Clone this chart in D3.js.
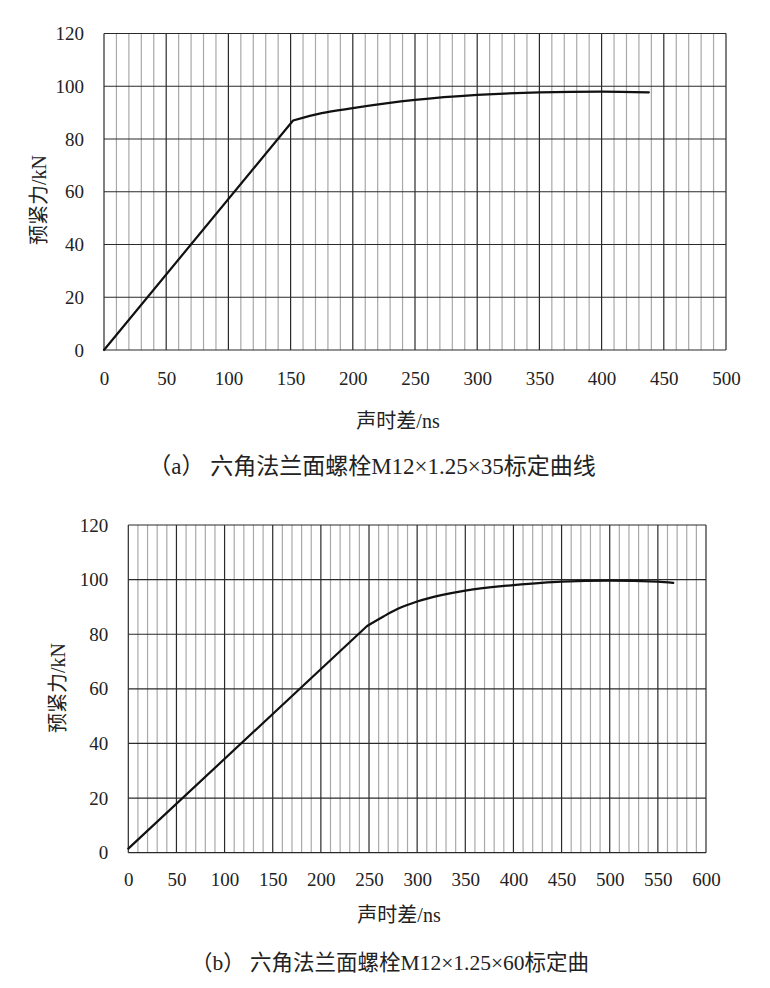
<!DOCTYPE html>
<html>
<head>
<meta charset="utf-8">
<script src="https://cdn.jsdelivr.net/npm/d3@7"></script>
<style>
  html, body { margin: 0; padding: 0; background: #fff; }
  svg { display: block; }
  text { font-family: "Liberation Serif", "Times New Roman", "Noto Sans CJK SC", serif; fill: #222; }
</style>
</head>
<body>
<svg id="chart" width="770" height="988"></svg>
<script>
// ---- Data ----
const yTicks = [0, 20, 40, 60, 80, 100, 120];

// (a) M12×1.25×35 : straight part (origin -> knee), then curved part (knee -> end)
const xTicksA = [0, 50, 100, 150, 200, 250, 300, 350, 400, 450, 500];
const seriesA_x = [0, 152, 175, 200, 250, 300, 350, 400, 438];
const seriesA_y = [0, 87, 89.8, 91.7, 94.8, 96.7, 97.7, 98, 97.7];
const kneeA = 1;

// (b) M12×1.25×60
const xTicksB = [0, 50, 100, 150, 200, 250, 300, 350, 400, 450, 500, 550, 600];
const seriesB_x = [0, 248, 265, 280, 300, 325, 350, 400, 450, 500, 550, 566];
const seriesB_y = [1.5, 83, 86.5, 89.3, 92, 94.3, 96, 98, 99.3, 99.6, 99.3, 98.8];
const kneeB = 1;

const yTitle = "预紧力/kN";
const xTitle = "声时差/ns";
const captionA = "（a） 六角法兰面螺栓M12×1.25×35标定曲线";
const captionB = "（b） 六角法兰面螺栓M12×1.25×60标定曲";

const FONT = '"Liberation Serif", "Times New Roman", "Noto Sans CJK SC", serif';
const svg = d3.select("#chart");

function drawPanel(cfg) {
  const g = svg.append("g");
  const x = d3.scaleLinear().domain([0, cfg.xMax]).range([cfg.left, cfg.right]);
  const y = d3.scaleLinear().domain([0, 120]).range([cfg.bottom, cfg.top]);

  // minor vertical gridlines every 10
  const minor = d3.range(0, cfg.xMax + 1, 10).filter(v => v % 50 !== 0);
  g.append("g").selectAll("line").data(minor).join("line")
    .attr("x1", d => x(d)).attr("x2", d => x(d))
    .attr("y1", y(0)).attr("y2", y(120))
    .attr("stroke", "#a9a9a9").attr("stroke-width", 1.2);

  // major vertical gridlines
  g.append("g").selectAll("line").data(cfg.xTicks).join("line")
    .attr("x1", d => x(d)).attr("x2", d => x(d))
    .attr("y1", y(0)).attr("y2", y(120))
    .attr("stroke", "#2a2a2a").attr("stroke-width", 1.2);

  // horizontal gridlines
  g.append("g").selectAll("line").data(yTicks).join("line")
    .attr("x1", x(0)).attr("x2", x(cfg.xMax))
    .attr("y1", d => y(d)).attr("y2", d => y(d))
    .attr("stroke", "#2a2a2a").attr("stroke-width", 1.2);

  // axes (labels only)
  const xa = g.append("g").attr("transform", `translate(0,${cfg.bottom})`)
    .call(d3.axisBottom(x).tickValues(cfg.xTicks).tickSize(0).tickPadding(cfg.xPad).tickFormat(d3.format("d")));
  xa.select(".domain").remove();
  xa.attr("font-family", null).attr("font-size", null);
  xa.selectAll("text").style("font-family", FONT).style("font-size", "19px").attr("fill", "#222");

  const ya = g.append("g").attr("transform", `translate(${cfg.left},0)`)
    .call(d3.axisLeft(y).tickValues(yTicks).tickSize(0).tickPadding(20).tickFormat(d3.format("d")));
  ya.select(".domain").remove();
  ya.attr("font-family", null).attr("font-size", null);
  ya.selectAll("text").style("font-family", FONT).style("font-size", "19px").attr("fill", "#222");

  // curve: straight segment to the knee, smooth curve afterwards
  const pts = cfg.xs.map((v, i) => [v, cfg.ys[i]]);
  const straight = pts.slice(0, cfg.knee + 1);
  const curved = pts.slice(cfg.knee);
  const lineLin = d3.line().x(d => x(d[0])).y(d => y(d[1])).curve(d3.curveLinear);
  const lineCurve = d3.line().x(d => x(d[0])).y(d => y(d[1])).curve(d3.curveMonotoneX);
  g.append("path").attr("fill", "none").attr("stroke", "#111").attr("stroke-width", 2.2)
    .attr("stroke-linejoin", "round").attr("stroke-linecap", "round")
    .attr("d", lineLin(straight) + lineCurve(curved).replace(/^M/, "L"));

  // titles
  g.append("text").attr("x", cfg.xTitleX).attr("y", cfg.xTitleY)
    .attr("text-anchor", "middle").attr("dominant-baseline", "central")
    .style("font-size", "20px").text(xTitle);
  g.append("text")
    .attr("transform", `translate(${cfg.yTitleX},${cfg.yTitleY}) rotate(-90)`)
    .attr("text-anchor", "middle").attr("dominant-baseline", "central")
    .style("font-size", "20px").text(yTitle);
  g.append("text").attr("x", cfg.capX).attr("y", cfg.capY)
    .attr("text-anchor", "middle").attr("dominant-baseline", "central")
    .style("font-size", cfg.capSize + "px").text(cfg.caption);
}

drawPanel({
  left: 104, right: 726, top: 33.5, bottom: 350, xMax: 500,
  xTicks: xTicksA, xs: seriesA_x, ys: seriesA_y, knee: kneeA, xPad: 22,
  xTitleX: 398, xTitleY: 421, yTitleX: 39, yTitleY: 200,
  capX: 372, capY: 466, capSize: 23, caption: captionA
});

drawPanel({
  left: 128.3, right: 706, top: 525, bottom: 852.7, xMax: 600,
  xTicks: xTicksB, xs: seriesB_x, ys: seriesB_y, knee: kneeB, xPad: 20,
  xTitleX: 399, xTitleY: 915, yTitleX: 58, yTitleY: 688,
  capX: 390, capY: 963, capSize: 21.5, caption: captionB
});
</script>
</body>
</html>
